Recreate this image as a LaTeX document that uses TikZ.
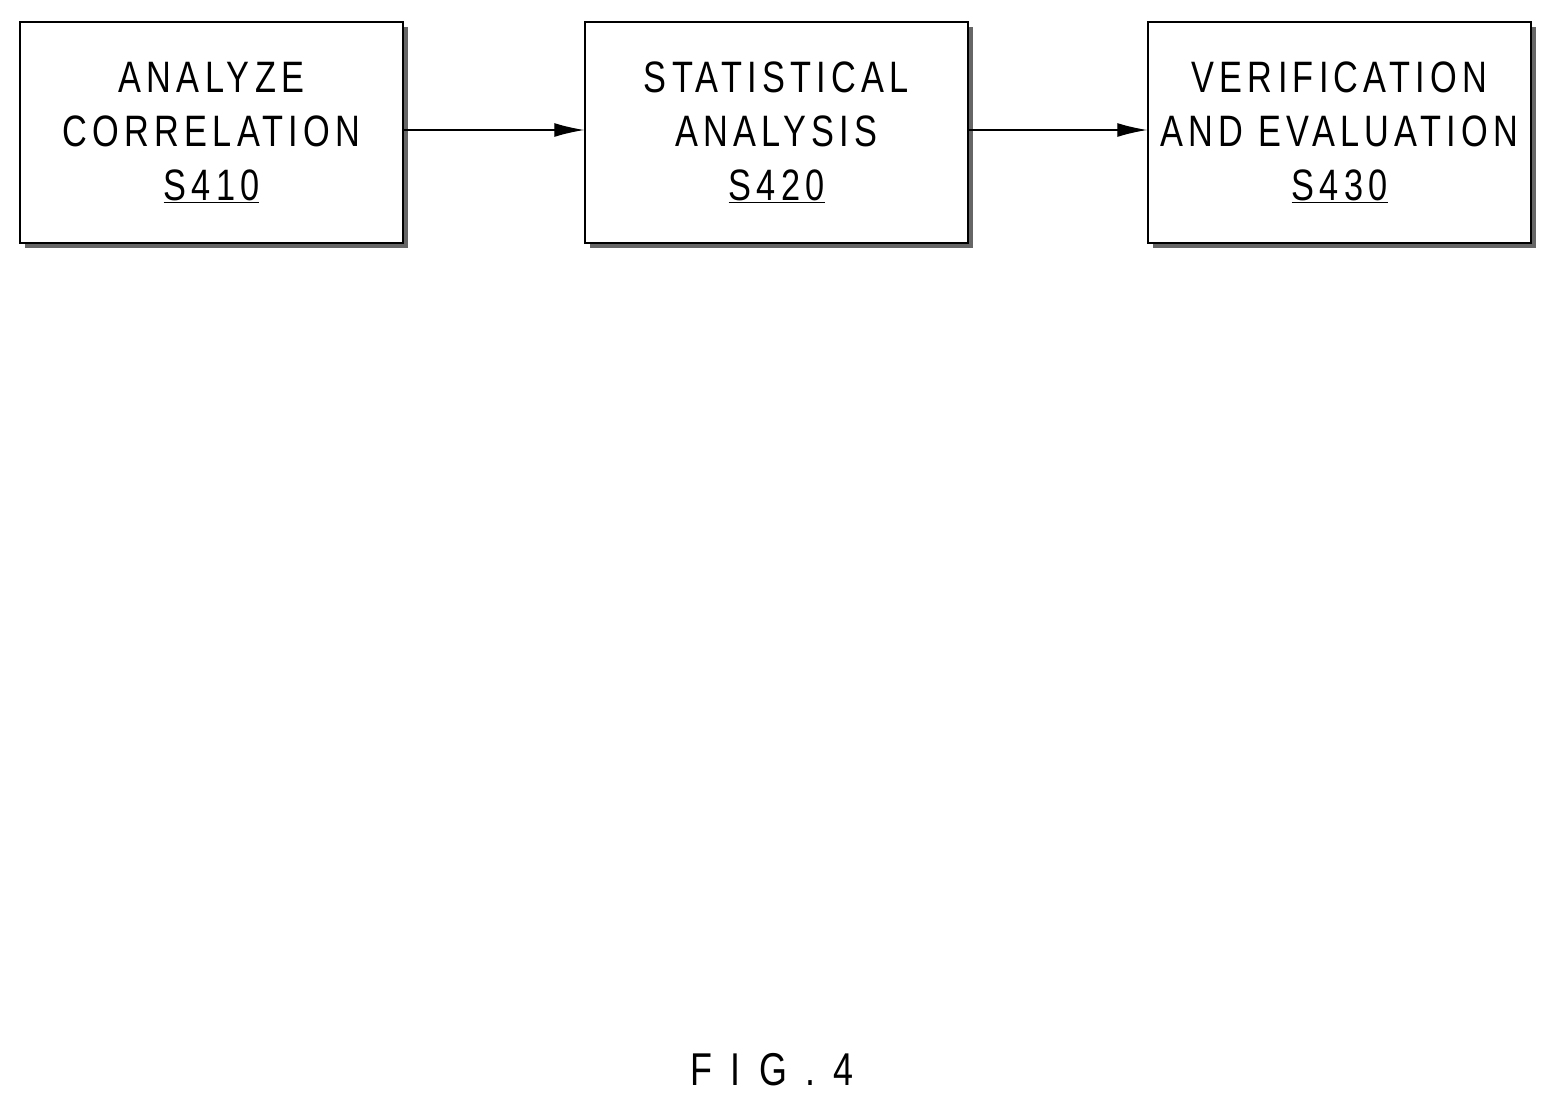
\documentclass[tikz,border=0pt]{standalone}
\usepackage{fontspec}
\setmainfont{Liberation Sans}[FakeStretch=0.78,LetterSpace=12]
\newfontfamily\figfont{Liberation Sans}[FakeStretch=0.78,LetterSpace=40]
\usetikzlibrary{arrows.meta,shadows}
\begin{document}
\begin{tikzpicture}[x=1pt,y=-1pt,
  box/.style={draw,line width=1.5pt,fill=white,minimum width=383pt,minimum height=221pt,
    align=center,font=\fontsize{44}{54}\selectfont,
    drop shadow={shadow xshift=5pt,shadow yshift=-5pt,fill=black!60,opacity=1}},
  arr/.style={-{Latex[length=30pt,width=14pt]},line width=1.3pt}]
\useasboundingbox (0,0) rectangle (1555,1111);
\node[box] (a) at (211.5,132.5) {ANALYZE\\CORRELATION\\\underline{S410}};
\node[box] (b) at (776.5,132.5) {STATISTICAL\\ANALYSIS\\\underline{S420}};
\node[box] (c) at (1339.5,132.5) {VERIFICATION\\AND EVALUATION\\\underline{S430}};
\draw[arr] (a.east |- 0,130) -- (b.west |- 0,130);
\draw[arr] (b.east |- 0,130) -- (c.west |- 0,130);
\node[font=\figfont\fontsize{46}{50}\selectfont] (f) at (772,1070) {FIG.4};
\end{tikzpicture}
\end{document}
